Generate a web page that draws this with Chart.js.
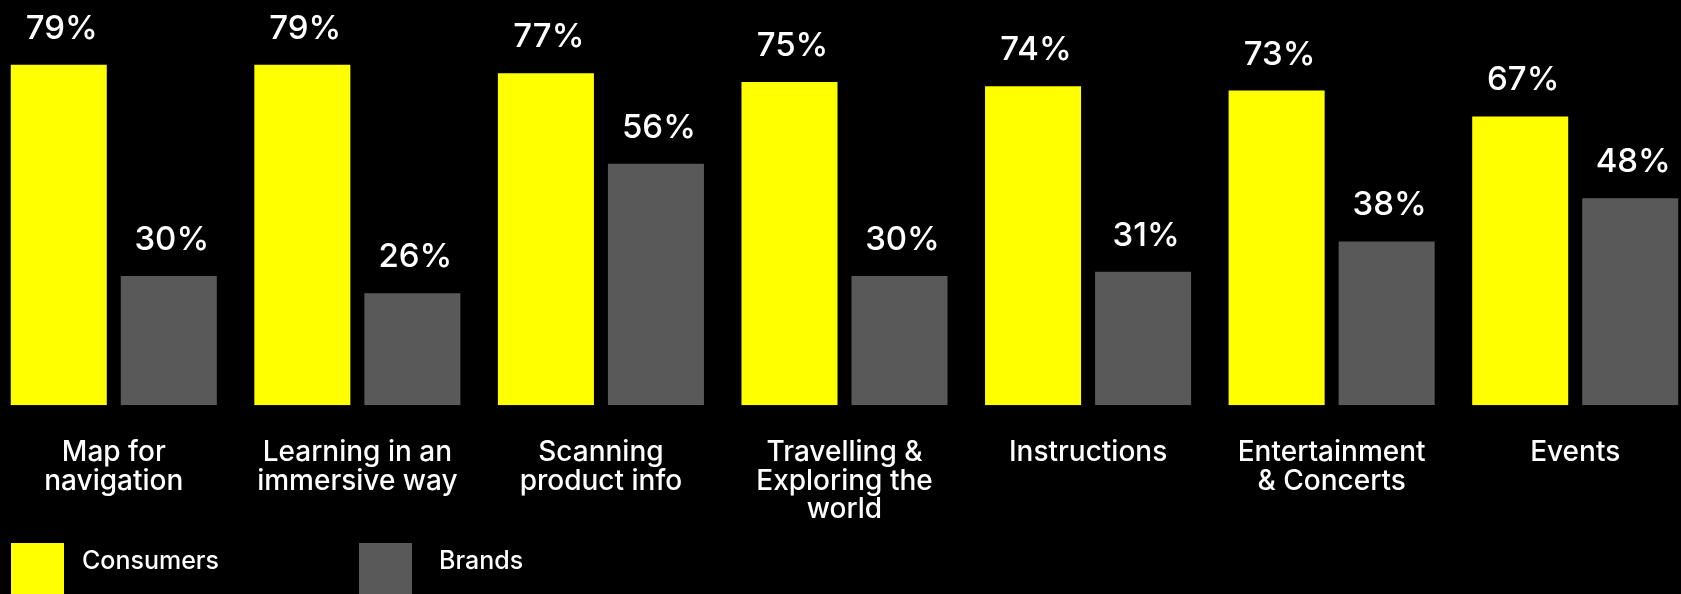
<!DOCTYPE html>
<html>
<head>
<meta charset="utf-8">
<script src="https://cdn.jsdelivr.net/npm/chart.js@4.4.0/dist/chart.umd.min.js"></script>
<style>
  html, body { margin: 0; padding: 0; background: #000; overflow: hidden; }
  /* a little wider than the window so the 7 groups get an even pitch */
  #wrap { position: absolute; left: -8px; top: 0; width: 1705px; height: 594px; }
</style>
</head>
<body>
<div id="wrap"><canvas id="chart"></canvas></div>
<script>
const categories = [
  ['Map for', 'navigation'],
  ['Learning in an', 'immersive way'],
  ['Scanning', 'product info'],
  ['Travelling &', 'Exploring the', 'world'],
  ['Instructions'],
  ['Entertainment', '& Concerts'],
  ['Events']
];
const consumers = [79, 79, 77, 75, 74, 73, 67];
const brands = [30, 26, 56, 30, 31, 38, 48];
const seriesNames = ['Consumers', 'Brands'];
const seriesColors = ['#ffff00', '#595959'];

const FONT = 'Inter, "Open Sans", sans-serif';

// percent labels above every bar
const valueLabels = {
  id: 'valueLabels',
  afterDatasetsDraw(chart) {
    const ctx = chart.ctx;
    ctx.save();
    ctx.fillStyle = '#fff';
    ctx.font = '500 33px ' + FONT;
    ctx.textAlign = 'center';
    ctx.textBaseline = 'alphabetic';
    chart.data.datasets.forEach((ds, i) => {
      chart.getDatasetMeta(i).data.forEach((bar, j) => {
        ctx.fillText(ds.data[j] + '%', bar.x + 3, bar.y - 26);
      });
    });
    ctx.restore();
  }
};

// square swatches along the bottom edge
const bottomLegend = {
  id: 'bottomLegend',
  afterDraw(chart) {
    const ctx = chart.ctx;
    const items = [{ x: 19, tx: 90 }, { x: 367, tx: 447 }];
    ctx.save();
    ctx.font = '500 25px ' + FONT;
    ctx.textBaseline = 'alphabetic';
    ctx.textAlign = 'left';
    chart.data.datasets.forEach((ds, i) => {
      const it = items[i];
      ctx.fillStyle = ds.backgroundColor;
      ctx.fillRect(it.x, 543, 53, 53);
      ctx.fillStyle = '#fff';
      ctx.fillText(ds.label, it.tx, 569);
    });
    ctx.restore();
  }
};

new Chart(document.getElementById('chart'), {
  type: 'bar',
  data: {
    labels: categories,
    datasets: [
      { label: seriesNames[0], data: consumers, backgroundColor: seriesColors[0] },
      { label: seriesNames[1], data: brands, backgroundColor: seriesColors[1] }
    ]
  },
  options: {
    responsive: true,
    maintainAspectRatio: false,
    animation: false,
    categoryPercentage: 220 / 243.5,
    barPercentage: 96 / 110,
    layout: { padding: { top: 0, left: 0, right: 0, bottom: 45 } },
    plugins: {
      legend: { display: false },
      tooltip: { enabled: false }
    },
    scales: {
      x: {
        grid: { display: false },
        border: { display: false },
        ticks: {
          color: '#fff',
          padding: 25,
          maxRotation: 0,
          autoSkip: false,
          font: { family: FONT, size: 28, weight: '500', lineHeight: 1.02 }
        }
      },
      y: {
        display: false,
        min: 0,
        max: 94
      }
    }
  },
  plugins: [valueLabels, bottomLegend]
});
</script>
</body>
</html>
